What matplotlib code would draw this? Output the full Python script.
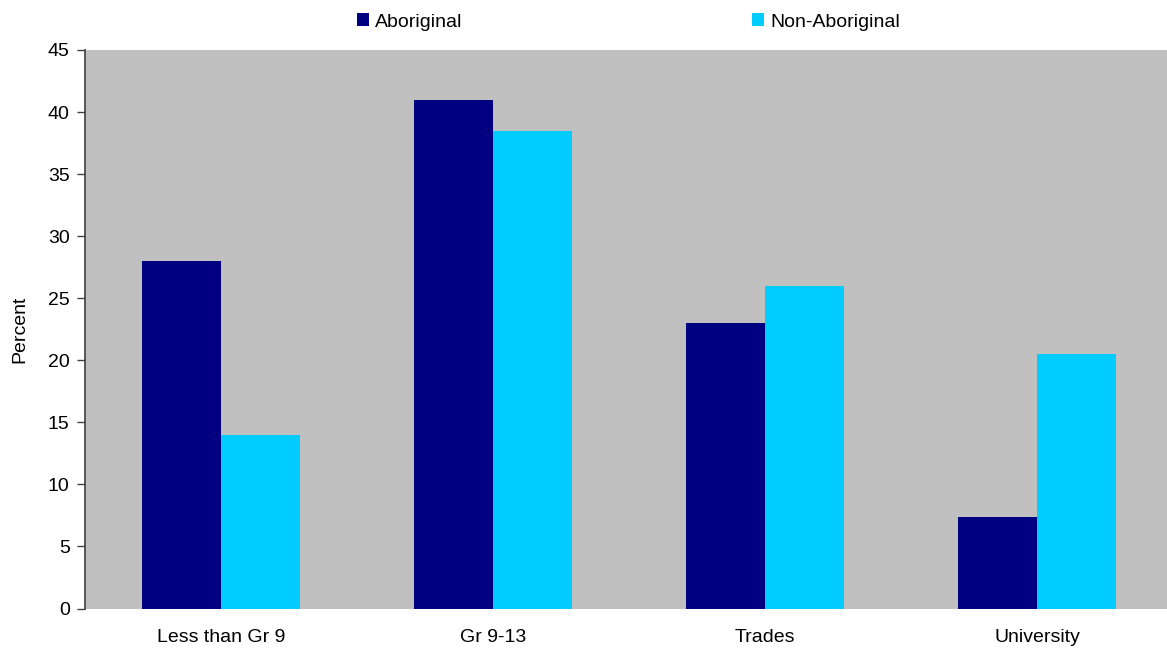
import matplotlib
matplotlib.use("Agg")
from matplotlib import pyplot as plt
from matplotlib.patches import Patch
import numpy as np

plt.rcParams['font.family'] = ['Liberation Sans', 'DejaVu Sans']

categories = ['Less than Gr 9', 'Gr 9-13', 'Trades', 'University']
aboriginal = [28, 41, 23, 7.4]
non_aboriginal = [14, 38.5, 26, 20.5]
series_names = ['Aboriginal', 'Non-Aboriginal']
colors = ['#000080', '#00CCFF']

fig = plt.figure(figsize=(11.67, 6.5), dpi=100)
ax = fig.add_axes([85/1167, (650-608.5)/650, 1 - 85/1167, (608.5-50)/650])
ax.set_facecolor('#C0C0C0')

x = np.arange(len(categories))
w = 0.29
ax.bar(x - w/2, aboriginal, w, color=colors[0], linewidth=0)
ax.bar(x + w/2, non_aboriginal, w, color=colors[1], linewidth=0)

# plot area is cut slightly on the right, like the original
ax.set_xlim(-0.5, len(categories) - 0.5 - 6/272)
ax.set_ylim(0, 45)
ax.set_yticks(np.arange(0, 46, 5))
ax.set_xticks(x)
ax.set_xticklabels(categories, fontsize=14)
ax.tick_params(axis='y', labelsize=14, length=6, width=1, color='#404040', direction='out', pad=5)
ax.tick_params(axis='x', length=0, pad=15)
ax.set_ylabel('Percent', fontsize=14, labelpad=14)

for s in ['top', 'right', 'bottom']:
    ax.spines[s].set_visible(False)
ax.spines['left'].set_color('#404040')
ax.spines['left'].set_linewidth(1.2)

handles = [Patch(facecolor=c, edgecolor='none') for c in colors]
fig.legend(handles, series_names, ncol=2, loc='center left',
           bbox_to_anchor=(357/1167, 1 - 22/650), frameon=False, fontsize=14,
           handlelength=0.62, handleheight=0.62, handletextpad=0.3,
           columnspacing=14.9, borderaxespad=0, borderpad=0)

fig.savefig('out.png', dpi=100)
